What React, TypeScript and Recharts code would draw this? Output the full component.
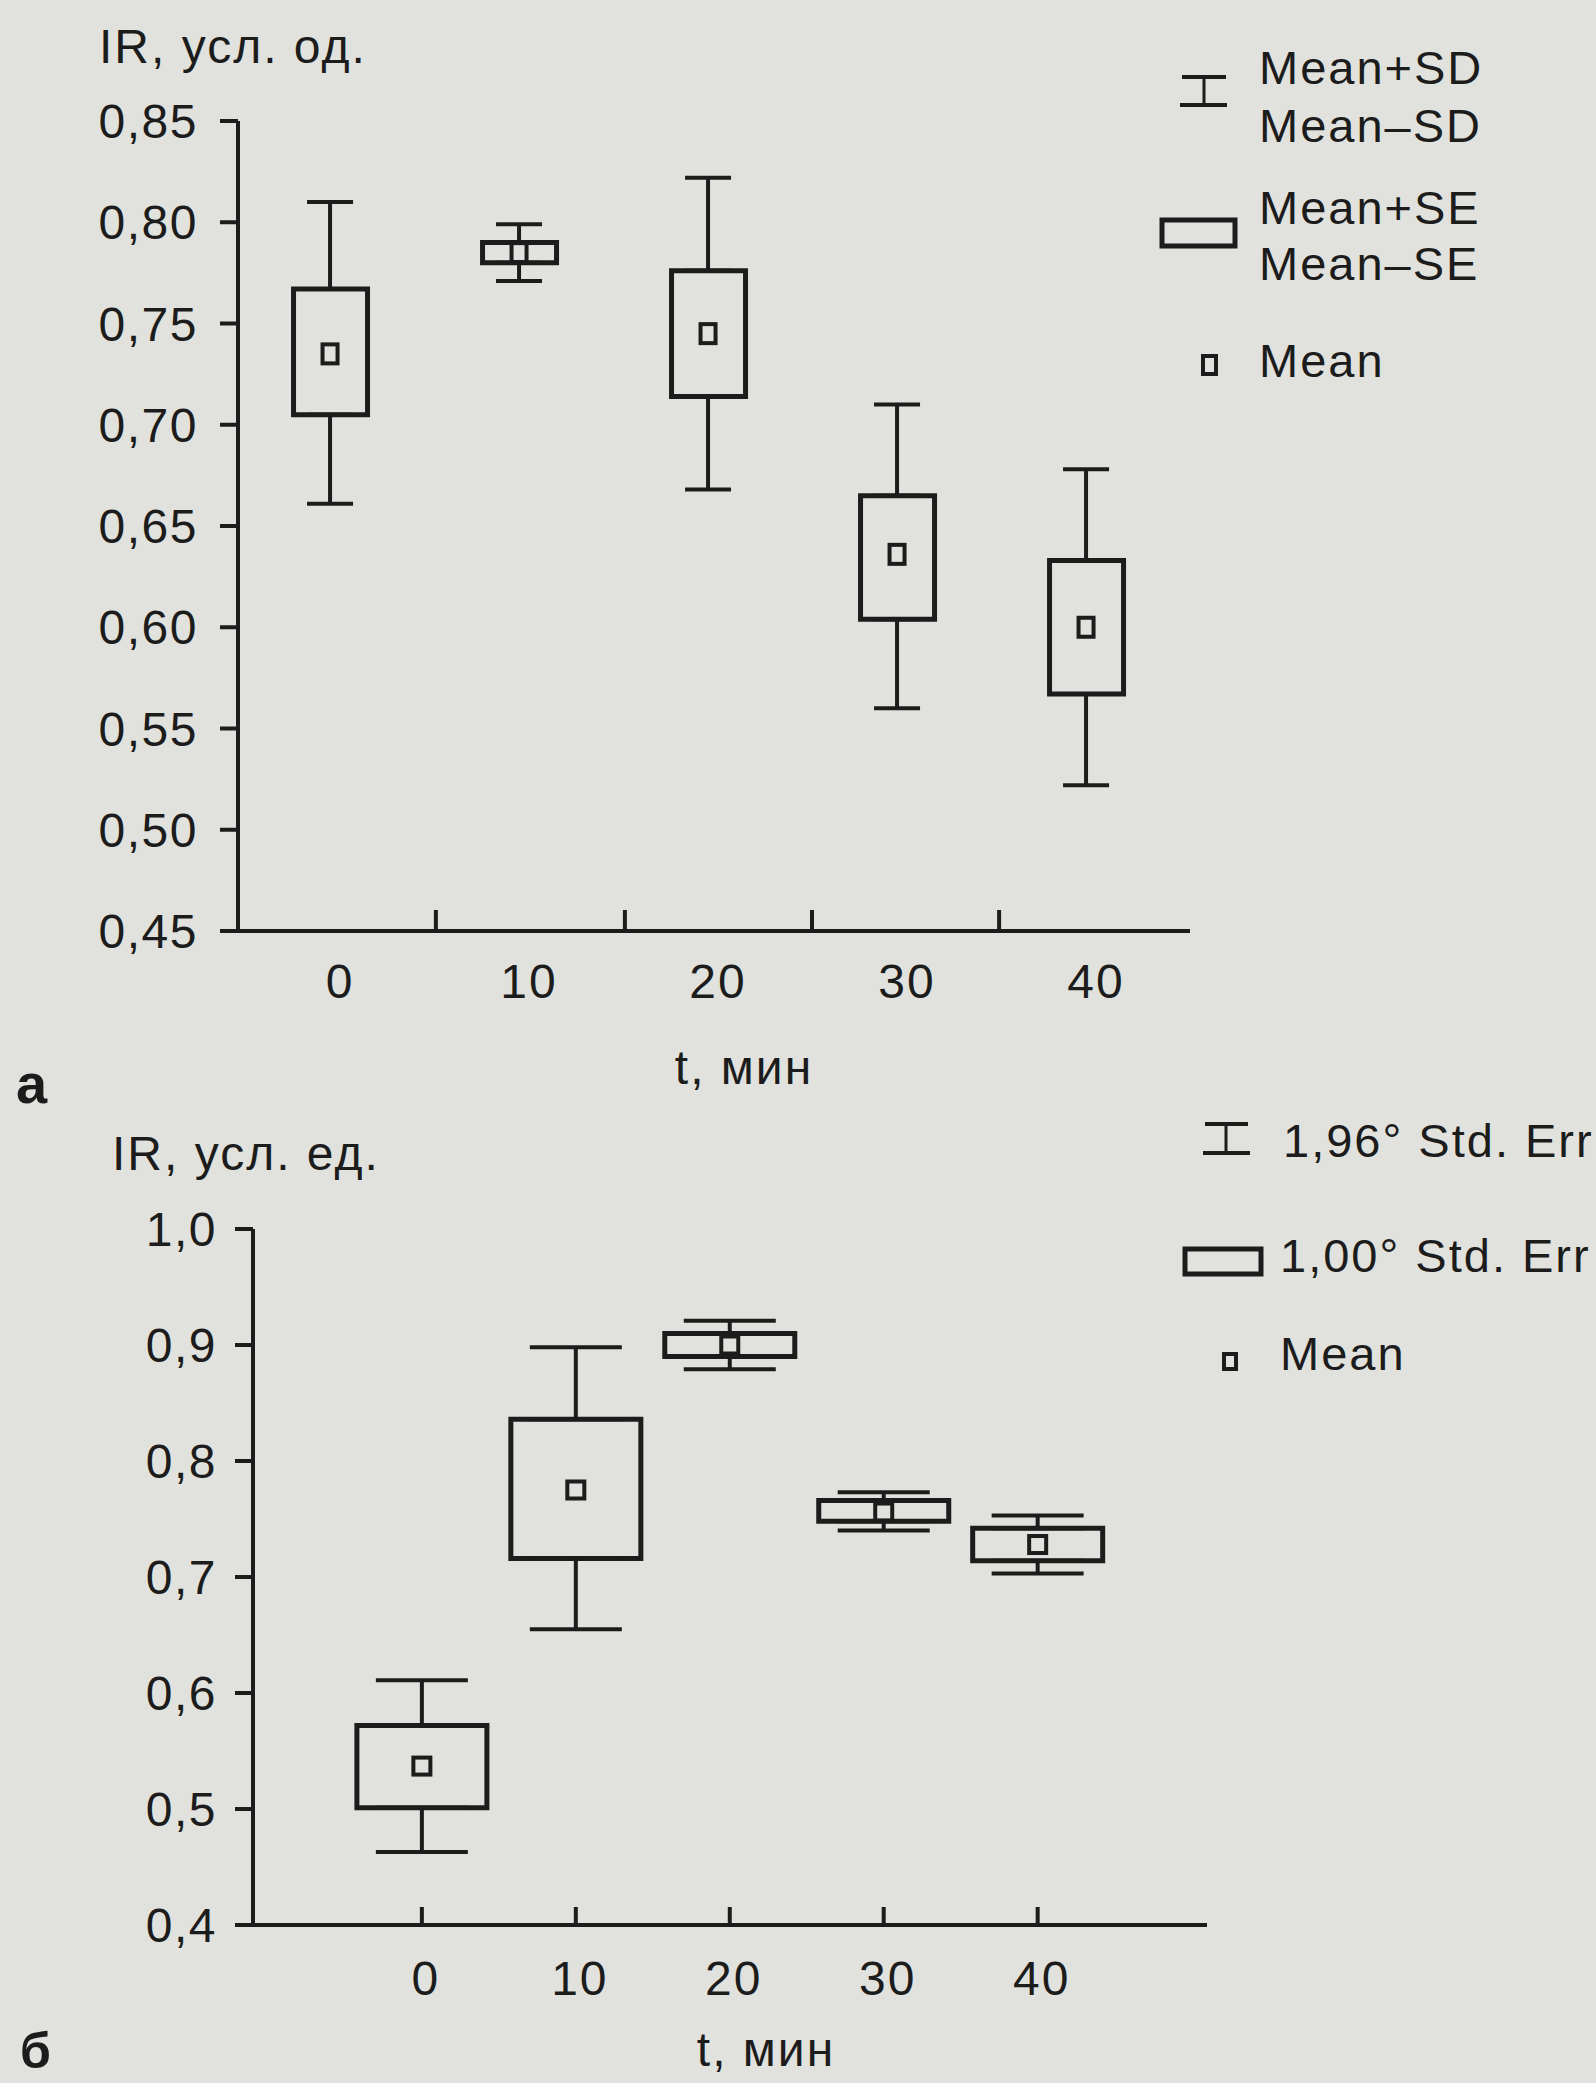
import React from 'react';
import { ComposedChart, Bar, Scatter, ErrorBar, XAxis, YAxis } from 'recharts';

// time points, minutes
const minutes = [0, 10, 20, 30, 40];

// panel а: mean, mean ± SE (box), mean ± SD (whiskers)
const aMean = [0.735, 0.785, 0.745, 0.636, 0.6];
const aSeLow = [0.705, 0.78, 0.714, 0.604, 0.567];
const aSeHigh = [0.767, 0.79, 0.776, 0.665, 0.633];
const aSdLow = [0.661, 0.771, 0.668, 0.56, 0.522];
const aSdHigh = [0.81, 0.799, 0.822, 0.71, 0.678];
const aYTicks = [0.45, 0.5, 0.55, 0.6, 0.65, 0.7, 0.75, 0.8, 0.85];
// tick marks between the time points
const aDividers = [5.6, 15.6, 25.5, 35.4];

// panel б: mean, ±1.00 SE (box), ±1.96 SE (whiskers)
const bMean = [0.537, 0.775, 0.9, 0.756, 0.728];
const bSeLow = [0.501, 0.716, 0.89, 0.748, 0.714];
const bSeHigh = [0.572, 0.836, 0.91, 0.766, 0.742];
const bCiLow = [0.463, 0.655, 0.879, 0.74, 0.703];
const bCiHigh = [0.611, 0.898, 0.921, 0.773, 0.753];
const bYTicks = [0.4, 0.5, 0.6, 0.7, 0.8, 0.9, 1.0];

const INK = '#1c1c1c';
const BG = '#e1e2dd';
const FONT = '"Liberation Sans", Arial, sans-serif';

function buildRows(mean: number[], lo: number[], hi: number[], wLo: number[], wHi: number[]) {
  return minutes.map((t, i) => ({
    t,
    mean: mean[i],
    box: [lo[i], hi[i]],
    lo: lo[i],
    hi: hi[i],
    up: [0, wHi[i] - hi[i]],
    down: [lo[i] - wLo[i], 0],
  }));
}

const rowsA = buildRows(aMean, aSeLow, aSeHigh, aSdLow, aSdHigh);
const rowsB = buildRows(bMean, bSeLow, bSeHigh, bCiLow, bCiHigh);

const noShape = () => <g />;

const meanMark = (w: number, h: number) => (props: any) => {
  const { cx, cy } = props;
  if (cx == null || cy == null) return <g />;
  return (
    <rect x={cx - w / 2} y={cy - h / 2} width={w} height={h} fill="none" stroke={INK} strokeWidth={4} />
  );
};

const labelStyle = { fill: INK, fontSize: 48, fontFamily: FONT, letterSpacing: 2 };

// panel а: labels at the time points, tick marks between them, pointing up
const tickA = (props: any) => {
  const { x, y, payload } = props;
  if (aDividers.includes(payload.value)) {
    return <line x1={x} x2={x} y1={y} y2={y - 21} stroke={INK} strokeWidth={4} />;
  }
  return (
    <text x={x + 10} y={y + 67} textAnchor="middle" {...labelStyle}>
      {payload.value}
    </text>
  );
};

// panel б: labels and tick marks both at the time points
const tickB = (props: any) => {
  const { x, y, payload } = props;
  return (
    <g>
      <line x1={x} x2={x} y1={y} y2={y - 18} stroke={INK} strokeWidth={4} />
      <text x={x + 4} y={y + 70} textAnchor="middle" {...labelStyle}>
        {payload.value}
      </text>
    </g>
  );
};

const fmt2 = (v: number) => v.toFixed(2).replace('.', ',');
const fmt1 = (v: number) => v.toFixed(1).replace('.', ',');

const axisLine = { stroke: INK, strokeWidth: 4 };

function BoxPlot(props: {
  rows: any[];
  width: number;
  height: number;
  margin: any;
  xDomain: [number, number];
  xTicks: number[];
  xHeight: number;
  tick: any;
  yDomain: [number, number];
  yTicks: number[];
  yWidth: number;
  yFormat: (v: number) => string;
  yMargin: number;
  boxWidth: number;
  capHalf: number;
  markW: number;
  markH: number;
}) {
  const p = props;
  return (
    <ComposedChart width={p.width} height={p.height} data={p.rows} margin={p.margin}>
      <XAxis
        type="number"
        dataKey="t"
        domain={p.xDomain}
        allowDataOverflow
        ticks={p.xTicks}
        interval={0}
        tickLine={false}
        tickSize={0}
        tickMargin={0}
        height={p.xHeight}
        axisLine={axisLine}
        tick={p.tick}
      />
      <YAxis
        type="number"
        domain={p.yDomain}
        allowDataOverflow
        ticks={p.yTicks}
        interval={0}
        width={p.yWidth}
        tickFormatter={p.yFormat}
        axisLine={axisLine}
        tickLine={{ stroke: INK, strokeWidth: 4 }}
        tickSize={18}
        tickMargin={p.yMargin}
        tick={{ fill: INK, fontSize: 48, fontFamily: FONT, letterSpacing: 1.5 }}
      />
      <Bar
        dataKey="box"
        barSize={p.boxWidth}
        fill="none"
        stroke={INK}
        strokeWidth={5}
        isAnimationActive={false}
      />
      <Scatter dataKey="hi" shape={noShape} isAnimationActive={false}>
        <ErrorBar dataKey="up" direction="y" width={p.capHalf} stroke={INK} strokeWidth={4} />
      </Scatter>
      <Scatter dataKey="lo" shape={noShape} isAnimationActive={false}>
        <ErrorBar dataKey="down" direction="y" width={p.capHalf} stroke={INK} strokeWidth={4} />
      </Scatter>
      <Scatter dataKey="mean" shape={meanMark(p.markW, p.markH)} isAnimationActive={false} />
    </ComposedChart>
  );
}

const txt = { fill: INK, fontFamily: FONT };
const legendText = { ...txt, fontSize: 47, letterSpacing: 2 };
const captionText = { ...txt, fontSize: 48, letterSpacing: 2 };

export default function App() {
  return (
    <div
      style={{
        position: 'absolute',
        left: 0,
        top: 0,
        width: 1596,
        height: 2083,
        background: BG,
        overflow: 'hidden',
      }}
    >
      <div style={{ position: 'absolute', left: 0, top: 0 }}>
        <BoxPlot
          rows={rowsA}
          width={1596}
          height={1040}
          margin={{ top: 121, right: 406, left: 100, bottom: 0 }}
          xDomain={[-4.87, 45.5]}
          xTicks={[...minutes, ...aDividers].sort((a, b) => a - b)}
          xHeight={109}
          tick={tickA}
          yDomain={[0.45, 0.85]}
          yTicks={aYTicks}
          yWidth={138}
          yFormat={fmt2}
          yMargin={22}
          boxWidth={74}
          capHalf={23}
          markW={15}
          markH={19}
        />
      </div>
      <div style={{ position: 'absolute', left: 0, top: 1100 }}>
        <BoxPlot
          rows={rowsB}
          width={1596}
          height={983}
          margin={{ top: 129, right: 389, left: 123, bottom: 0 }}
          xDomain={[-10.97, 51.0]}
          xTicks={minutes}
          xHeight={158}
          tick={tickB}
          yDomain={[0.4, 1.0]}
          yTicks={bYTicks}
          yWidth={130}
          yFormat={fmt1}
          yMargin={18}
          boxWidth={130}
          capHalf={46}
          markW={17}
          markH={17}
        />
      </div>
      <svg
        width={1596}
        height={2083}
        style={{ position: 'absolute', left: 0, top: 0, pointerEvents: 'none' }}
      >
        {/* panel а captions */}
        <text x={99} y={63} {...captionText}>IR, усл. од.</text>
        <text x={744} y={1084} textAnchor="middle" {...captionText}>t, мин</text>
        <text x={16} y={1103} fontSize={56} fontWeight="bold" {...txt}>а</text>

        {/* panel а legend */}
        <g stroke={INK} strokeWidth={4} fill="none">
          <line x1={1182} x2={1226} y1={77} y2={77} />
          <line x1={1204} x2={1204} y1={77} y2={105} strokeWidth={3} />
          <line x1={1180} x2={1227} y1={105} y2={105} />
          <rect x={1162} y={220} width={73} height={26} strokeWidth={5} />
          <rect x={1203} y={356} width={13} height={18} />
        </g>
        <text x={1259} y={84} {...legendText}>Mean+SD</text>
        <text x={1259} y={142} {...legendText}>Mean–SD</text>
        <text x={1259} y={224} {...legendText}>Mean+SE</text>
        <text x={1259} y={280} {...legendText}>Mean–SE</text>
        <text x={1259} y={377} {...legendText}>Mean</text>

        {/* panel б captions */}
        <text x={112} y={1170} {...captionText}>IR, усл. ед.</text>
        <text x={766} y={2066} textAnchor="middle" {...captionText}>t, мин</text>
        <text x={20} y={2068} fontSize={50} fontWeight="bold" {...txt}>б</text>

        {/* panel б legend */}
        <g stroke={INK} strokeWidth={4} fill="none">
          <line x1={1205} x2={1248} y1={1124} y2={1124} />
          <line x1={1226} x2={1226} y1={1124} y2={1153} strokeWidth={3} />
          <line x1={1203} x2={1250} y1={1153} y2={1153} />
          <rect x={1185} y={1249} width={76} height={25} strokeWidth={5} />
          <rect x={1224} y={1354} width={12} height={15} />
        </g>
        <text x={1283} y={1157} {...legendText}>1,96° Std. Err</text>
        <text x={1280} y={1272} {...legendText}>1,00° Std. Err</text>
        <text x={1280} y={1370} {...legendText}>Mean</text>
      </svg>
    </div>
  );
}
